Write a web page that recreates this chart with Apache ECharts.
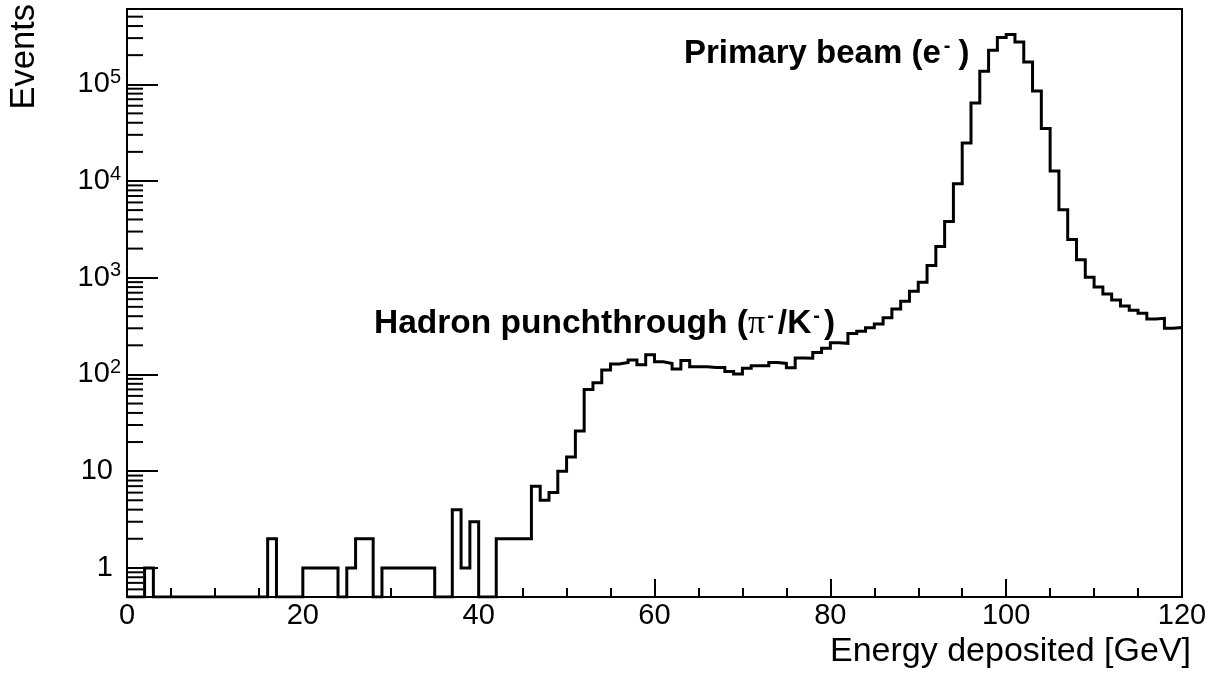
<!DOCTYPE html>
<html>
<head>
<meta charset="utf-8">
<script src="https://cdn.jsdelivr.net/npm/echarts@6/dist/echarts.min.js"></script>
<style>
html,body{margin:0;padding:0;background:#fff;}
#chart{width:1214px;height:673px;}
</style>
</head>
<body>
<div id="chart"></div>
<script>
// ---- data (1 GeV bins, lower edges 0..119) ----
const binWidth = 1;
const xMin = 0, xMax = 120;
const yMin = 0.5, yMax = 6e5;
const counts = [
  0,0,1,0,0,0,0,0,0,0,
  0,0,0,0,0,0,2,0,0,0,
  1,1,1,1,0,1,2,2,0,1,
  1,1,1,1,1,0,0,4,1,3,
  0,0,2,2,2,2,7,5,6,10,
  14,26,70,82,111,128,133,141,126,160,
  135,130,114,139,120,120,118,118,107,101,
  116,123,123,133,130,117,148,147,169,187,
  213,210,265,280,303,333,385,476,571,725,
  898,1337,2103,3818,9380,24700,64100,136000,225000,304000,
  327000,274000,170000,85300,34800,12700,5050,2480,1530,1010,
  800,680,590,510,460,430,375,380,300,305
];
const xTickLabels = [0, 20, 40, 60, 80, 100, 120];
const yMajorTicks = [1, 10, 100, 1000, 10000, 100000];
const xTitle = 'Energy deposited [GeV]';
const yTitle = 'Events';
const annPrimary = 'Primary beam (e{sup|-})';
const annHadron = 'Hadron punchthrough ({pi|\u03c0}{sup|-}/K{sup|-})';

// ---- build ----
const histPoints = counts.map((c, i) => [xMin + i * binWidth, Math.max(c, yMin)]);
histPoints.push([xMin + counts.length * binWidth, Math.max(counts[counts.length - 1], yMin)]);

const yMinorTicks = [];
for (let n = -1; n <= 5; n++) {
  for (let m = 2; m <= 9; m++) {
    const v = m * Math.pow(10, n);
    if (v > yMin && v < yMax) yMinorTicks.push([xMin, v]);
  }
}

const FONT = '"Liberation Sans", Arial, Helvetica, sans-serif';
const chart = echarts.init(document.getElementById('chart'), null, {renderer: 'canvas'});

chart.setOption({
  animation: false,
  backgroundColor: '#fff',
  grid: {left: 127, right: 32, top: 9, bottom: 76, show: true, borderColor: '#000', borderWidth: 2, backgroundColor: 'transparent'},
  xAxis: {
    type: 'value', min: xMin, max: xMax, interval: 20,
    axisLine: {show: true, lineStyle: {color: '#000', width: 2}},
    axisTick: {show: true, inside: true, length: 18, lineStyle: {color: '#000', width: 2}},
    minorTick: {show: true, splitNumber: 4, length: 9, lineStyle: {color: '#000', width: 2}},
    splitLine: {show: false},
    axisLabel: {
      color: '#000', fontFamily: FONT, fontSize: 29, margin: 4,
      formatter: v => xTickLabels.indexOf(v) >= 0 ? String(v) : ''
    }
  },
  yAxis: {
    type: 'log', logBase: 10, min: yMin, max: yMax,
    axisLine: {show: true, lineStyle: {color: '#000', width: 2}},
    axisTick: {show: true, inside: true, length: 31, lineStyle: {color: '#000', width: 2}},
    splitLine: {show: false},
    axisLabel: {
      showMinLabel: false, showMaxLabel: false,
      color: '#000', fontFamily: FONT, fontSize: 29, margin: 6,
      formatter: v => {
        const n = Math.round(Math.log10(v));
        if (yMajorTicks.indexOf(Math.pow(10, n)) < 0 || Math.abs(Math.log10(v) - n) > 1e-6) return '';
        if (n <= 1) return '{p|' + Math.pow(10, n) + '}';
        return '{b|10}{s|' + n + '}';
      },
      rich: {
        p: {fontFamily: FONT, fontSize: 29, color: '#000', padding: [0, 8, 0, 0]},
        b: {fontFamily: FONT, fontSize: 29, color: '#000'},
        s: {fontFamily: FONT, fontSize: 20, color: '#000', verticalAlign: 'top', padding: [0, 0, 14, 0]}
      }
    }
  },
  series: [
    {
      type: 'line', data: histPoints, step: 'end', symbol: 'none',
      lineStyle: {color: '#000', width: 3, join: 'miter'},
      clip: true, z: 3
    },
    {
      type: 'custom', data: yMinorTicks, z: 4, silent: true,
      renderItem: (params, api) => {
        const p = api.coord([api.value(0), api.value(1)]);
        return {type: 'line', shape: {x1: p[0], y1: p[1], x2: p[0] + 16, y2: p[1]}, style: {stroke: '#000', lineWidth: 2}};
      }
    }
  ],
  graphic: [
    {type: 'text', x: 1191, y: 652, style: {text: xTitle, font: '34px ' + FONT, fill: '#000', textAlign: 'right', textVerticalAlign: 'middle'}},
    {type: 'text', x: 24, y: 4, rotation: Math.PI / 2, style: {text: yTitle, font: '34.5px ' + FONT, fill: '#000', textAlign: 'right', textVerticalAlign: 'middle'}},
    {type: 'text', x: 684, y: 54, style: {
      text: annPrimary, fill: '#000', textAlign: 'left', textVerticalAlign: 'middle',
      fontFamily: FONT, fontWeight: 'bold', fontSize: 33,
      rich: {
        sup: {fontFamily: FONT, fontWeight: 'bold', fontSize: 20, verticalAlign: 'top', padding: [0, 8, 16, 3]}
      }
    }},
    {type: 'text', x: 374, y: 324, style: {
      text: annHadron, fill: '#000', textAlign: 'left', textVerticalAlign: 'middle',
      fontFamily: FONT, fontWeight: 'bold', fontSize: 33.5,
      rich: {
        sup: {fontFamily: FONT, fontWeight: 'bold', fontSize: 20, verticalAlign: 'top', padding: [0, 4, 16, 2]},
        pi: {fontFamily: '"Liberation Serif", "DejaVu Serif", serif', fontSize: 34, fontWeight: 'normal'}
      }
    }}
  ]
});
</script>
</body>
</html>
